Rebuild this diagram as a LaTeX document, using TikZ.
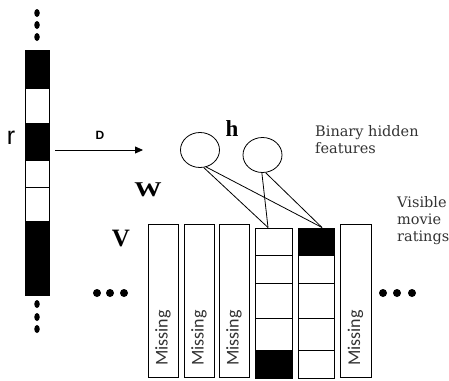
\documentclass[tikz,border=0pt]{standalone}
\usepackage{fontspec}
\setmainfont{Liberation Serif}
\newfontfamily\capfont{Carlito}
\newfontfamily\serfont{DejaVu Serif}
\newfontfamily\sanfont{Liberation Sans}
\usetikzlibrary{shapes.geometric,calc,arrows.meta}
\begin{document}
\begin{tikzpicture}[x=1pt,y=-1pt,
  hid/.style={draw,ellipse,line width=0.8pt,minimum width=39pt,minimum height=35pt,inner sep=0pt},
  vbox/.style={draw,line width=0.8pt,inner sep=0pt,anchor=north west},
  conn/.style={line width=0.8pt},
  miss/.style={rotate=90,font=\capfont\fontsize{18}{18}\selectfont,text=black!80,inner sep=0pt},
  dsc/.style={font=\serfont\fontsize{14.5}{17}\selectfont,align=left,anchor=west,inner sep=0pt,text=black!80},
  big/.style={font=\bfseries\fontsize{#1}{#1}\selectfont,inner sep=0pt},
  vdot/.style={fill,ellipse,minimum width=5.5pt,minimum height=8pt,inner sep=0pt},
  hdot/.style={fill,circle,minimum size=8pt,inner sep=0pt}]
\useasboundingbox (0,0) rectangle (449,380);
% left column r
\node[vbox,fill=black,minimum width=24pt,minimum height=38pt] (r1) at (25,50) {};
\node[vbox,minimum width=24pt,minimum height=35pt] (r2) at (25,88) {};
\node[vbox,fill=black,minimum width=24pt,minimum height=37pt] (r3) at (25,123) {};
\node[vbox,minimum width=24pt,minimum height=27pt] (r4) at (25,160) {};
\node[vbox,minimum width=24pt,minimum height=34pt] (r5) at (25,187) {};
\node[vbox,fill=black,minimum width=24pt,minimum height=74pt] (r6) at (25,221) {};
\foreach \y [count=\i] in {13,25,37} \node[vdot] (ta\i) at (37,\y) {};
\foreach \y [count=\i] in {304,317,329} \node[vdot] (tb\i) at (37,\y) {};
\node[font=\sanfont\fontsize{25}{25}\selectfont,inner sep=0pt] (rl) at (11,138) {r};
% arrow D
\coordinate (as) at (55,150);
\coordinate (ae) at (143,150);
\draw[conn,-{Triangle[length=8pt,width=7pt]}] (as) -- (ae);
\node[font=\sanfont\bfseries\fontsize{12}{12}\selectfont,inner sep=0pt] (dl) at (100,135) {D};
% hidden units
\node[hid] (h1) at (200,150) {};
\node[hid] (h2) at (262.5,155) {};
\node[big=23] (hl) at (232,129) {h};
\node[big=21,xscale=1.3] (wl) at (148,190) {W};
\node[big=25] (vl) at (121,238) {V};
\node[dsc] (bh) at (315,140) {Binary hidden\\features};
\node[dsc] (vm) at (397,221) {Visible\\movie\\ratings};
% visible boxes
\node[vbox,minimum width=30pt,minimum height=153pt] (v1) at (148,224) {};
\node[vbox,minimum width=30pt,minimum height=153pt] (v2) at (184,224) {};
\node[vbox,minimum width=30pt,minimum height=153pt] (v3) at (219,224) {};
\node[vbox,minimum width=37pt,minimum height=150pt] (v4) at (255,227.5) {};
\node[vbox,minimum width=36pt,minimum height=150pt] (v5) at (298,227.5) {};
\node[vbox,minimum width=31pt,minimum height=153pt] (v6) at (340,224) {};
\fill (255,350) rectangle (292,377.5);
\fill (298,227.5) rectangle (334,255);
\foreach \y in {255,283,318,350} {
  \draw[line width=0.8pt] (255,\y) -- (292,\y);
  \draw[line width=0.8pt] (298,\y) -- (334,\y);
}
\node[miss] (m1) at (163,338) {Missing};
\node[miss] (m2) at (199,338) {Missing};
\node[miss] (m3) at (234,338) {Missing};
\node[miss] (m6) at (355.5,338) {Missing};
% dots
\foreach \x [count=\i] in {97,110,124} \node[hdot] (la\i) at (\x,293) {};
\foreach \x [count=\i] in {383,397,412} \node[hdot] (ra\i) at (\x,293) {};
% connections
\coordinate (t4) at ($(v4.north west)+(13,0)$);
\coordinate (t5) at ($(v5.north west)+(24,0)$);
\draw[conn] (h1.-78) -- (t4);
\draw[conn] (h1.-70) -- (t5);
\draw[conn] (h2.-92) -- (t4);
\draw[conn] (h2.-80) -- (t5);
\end{tikzpicture}
\end{document}
